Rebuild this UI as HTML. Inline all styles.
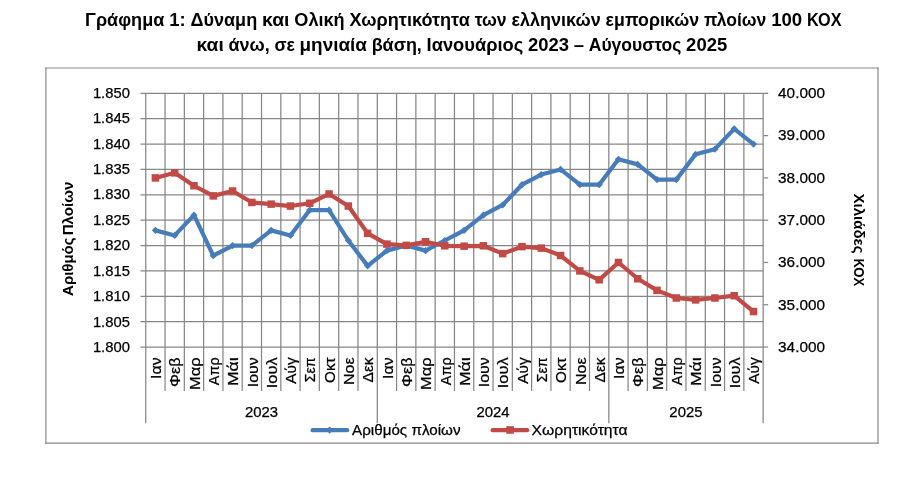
<!DOCTYPE html>
<html lang="el"><head><meta charset="utf-8"><title>Γράφημα 1</title>
<style>html,body{margin:0;padding:0;background:#fff}svg{display:block}text{font-family:"Liberation Sans",sans-serif;fill:#000}</style></head><body>
<svg width="917" height="482" viewBox="0 0 917 482">
<rect width="917" height="482" fill="#fff"/>
<g font-weight="bold" font-size="17.5">
<text x="85.1" y="26.1" textLength="79.2" lengthAdjust="spacingAndGlyphs">Γράφημα</text>
<text x="169.18" y="26.1" textLength="16.44" lengthAdjust="spacingAndGlyphs">1:</text>
<text x="190.5" y="26.1" textLength="66.66" lengthAdjust="spacingAndGlyphs">Δύναμη</text>
<text x="262.03" y="26.1" textLength="27.41" lengthAdjust="spacingAndGlyphs">και</text>
<text x="294.31" y="26.1" textLength="50.33" lengthAdjust="spacingAndGlyphs">Ολική</text>
<text x="349.52" y="26.1" textLength="120.28" lengthAdjust="spacingAndGlyphs">Χωρητικότητα</text>
<text x="474.67" y="26.1" textLength="31.98" lengthAdjust="spacingAndGlyphs">των</text>
<text x="511.53" y="26.1" textLength="89.22" lengthAdjust="spacingAndGlyphs">ελληνικών</text>
<text x="605.62" y="26.1" textLength="93.46" lengthAdjust="spacingAndGlyphs">εμπορικών</text>
<text x="703.95" y="26.1" textLength="62.34" lengthAdjust="spacingAndGlyphs">πλοίων</text>
<text x="771.17" y="26.1" textLength="31.04" lengthAdjust="spacingAndGlyphs">100</text>
<text x="807.09" y="26.1" textLength="34.41" lengthAdjust="spacingAndGlyphs">ΚΟΧ</text>
<text x="196.5" y="50.8" textLength="27.25" lengthAdjust="spacingAndGlyphs">και</text>
<text x="228.46" y="50.8" textLength="41.22" lengthAdjust="spacingAndGlyphs">άνω,</text>
<text x="274.4" y="50.8" textLength="20.45" lengthAdjust="spacingAndGlyphs">σε</text>
<text x="299.56" y="50.8" textLength="67.4" lengthAdjust="spacingAndGlyphs">μηνιαία</text>
<text x="371.67" y="50.8" textLength="50.19" lengthAdjust="spacingAndGlyphs">βάση,</text>
<text x="426.57" y="50.8" textLength="96.69" lengthAdjust="spacingAndGlyphs">Ιανουάριος</text>
<text x="527.97" y="50.8" textLength="41.08" lengthAdjust="spacingAndGlyphs">2023</text>
<text x="573.77" y="50.8" textLength="10.3" lengthAdjust="spacingAndGlyphs">–</text>
<text x="588.78" y="50.8" textLength="92.62" lengthAdjust="spacingAndGlyphs">Αύγουστος</text>
<text x="686.12" y="50.8" textLength="41.08" lengthAdjust="spacingAndGlyphs">2025</text>
</g>
<g stroke="#878787" stroke-width="1.2" stroke-linecap="square"><line x1="45.9" y1="68" x2="878" y2="68"/><line x1="45.9" y1="443.2" x2="878" y2="443.2"/><line x1="45.9" y1="68" x2="45.9" y2="443.2"/><line x1="878" y1="68" x2="878" y2="443.2"/></g>
<g stroke="#878787" stroke-width="1.25" fill="none">
<line x1="140.45" y1="93.35" x2="763.15" y2="93.35"/>
<line x1="140.45" y1="118.72" x2="763.15" y2="118.72"/>
<line x1="140.45" y1="144.09" x2="763.15" y2="144.09"/>
<line x1="140.45" y1="169.46" x2="763.15" y2="169.46"/>
<line x1="140.45" y1="194.83" x2="763.15" y2="194.83"/>
<line x1="140.45" y1="220.2" x2="763.15" y2="220.2"/>
<line x1="140.45" y1="245.57" x2="763.15" y2="245.57"/>
<line x1="140.45" y1="270.94" x2="763.15" y2="270.94"/>
<line x1="140.45" y1="296.31" x2="763.15" y2="296.31"/>
<line x1="140.45" y1="321.68" x2="763.15" y2="321.68"/>
<line x1="140.45" y1="347.05" x2="763.15" y2="347.05"/>
<line x1="763.15" y1="93.35" x2="768.15" y2="93.35"/>
<line x1="763.15" y1="135.63" x2="768.15" y2="135.63"/>
<line x1="763.15" y1="177.92" x2="768.15" y2="177.92"/>
<line x1="763.15" y1="220.2" x2="768.15" y2="220.2"/>
<line x1="763.15" y1="262.48" x2="768.15" y2="262.48"/>
<line x1="763.15" y1="304.77" x2="768.15" y2="304.77"/>
<line x1="763.15" y1="347.05" x2="768.15" y2="347.05"/>
<line x1="145.75" y1="93.35" x2="145.75" y2="423.3"/>
<line x1="165.04" y1="93.35" x2="165.04" y2="391"/>
<line x1="184.34" y1="93.35" x2="184.34" y2="391"/>
<line x1="203.63" y1="93.35" x2="203.63" y2="391"/>
<line x1="222.93" y1="93.35" x2="222.93" y2="391"/>
<line x1="242.22" y1="93.35" x2="242.22" y2="391"/>
<line x1="261.51" y1="93.35" x2="261.51" y2="391"/>
<line x1="280.81" y1="93.35" x2="280.81" y2="391"/>
<line x1="300.1" y1="93.35" x2="300.1" y2="391"/>
<line x1="319.39" y1="93.35" x2="319.39" y2="391"/>
<line x1="338.69" y1="93.35" x2="338.69" y2="391"/>
<line x1="357.98" y1="93.35" x2="357.98" y2="391"/>
<line x1="377.27" y1="93.35" x2="377.27" y2="423.3"/>
<line x1="396.57" y1="93.35" x2="396.57" y2="391"/>
<line x1="415.86" y1="93.35" x2="415.86" y2="391"/>
<line x1="435.16" y1="93.35" x2="435.16" y2="391"/>
<line x1="454.45" y1="93.35" x2="454.45" y2="391"/>
<line x1="473.74" y1="93.35" x2="473.74" y2="391"/>
<line x1="493.04" y1="93.35" x2="493.04" y2="391"/>
<line x1="512.33" y1="93.35" x2="512.33" y2="391"/>
<line x1="531.62" y1="93.35" x2="531.62" y2="391"/>
<line x1="550.92" y1="93.35" x2="550.92" y2="391"/>
<line x1="570.21" y1="93.35" x2="570.21" y2="391"/>
<line x1="589.51" y1="93.35" x2="589.51" y2="391"/>
<line x1="608.8" y1="93.35" x2="608.8" y2="423.3"/>
<line x1="628.09" y1="93.35" x2="628.09" y2="391"/>
<line x1="647.39" y1="93.35" x2="647.39" y2="391"/>
<line x1="666.68" y1="93.35" x2="666.68" y2="391"/>
<line x1="685.98" y1="93.35" x2="685.98" y2="391"/>
<line x1="705.27" y1="93.35" x2="705.27" y2="391"/>
<line x1="724.56" y1="93.35" x2="724.56" y2="391"/>
<line x1="743.86" y1="93.35" x2="743.86" y2="391"/>
<line x1="763.15" y1="93.35" x2="763.15" y2="423.3"/>
</g>
<g font-size="14.6" stroke="#000" stroke-width="0.25" text-anchor="end">
<text x="129.9" y="97.6" textLength="37" lengthAdjust="spacingAndGlyphs">1.850</text>
<text x="129.9" y="123.06" textLength="37" lengthAdjust="spacingAndGlyphs">1.845</text>
<text x="129.9" y="148.52" textLength="37" lengthAdjust="spacingAndGlyphs">1.840</text>
<text x="129.9" y="173.98" textLength="37" lengthAdjust="spacingAndGlyphs">1.835</text>
<text x="129.9" y="199.44" textLength="37" lengthAdjust="spacingAndGlyphs">1.830</text>
<text x="129.9" y="224.9" textLength="37" lengthAdjust="spacingAndGlyphs">1.825</text>
<text x="129.9" y="250.36" textLength="37" lengthAdjust="spacingAndGlyphs">1.820</text>
<text x="129.9" y="275.82" textLength="37" lengthAdjust="spacingAndGlyphs">1.815</text>
<text x="129.9" y="301.28" textLength="37" lengthAdjust="spacingAndGlyphs">1.810</text>
<text x="129.9" y="326.74" textLength="37" lengthAdjust="spacingAndGlyphs">1.805</text>
<text x="129.9" y="352.2" textLength="37" lengthAdjust="spacingAndGlyphs">1.800</text>
</g>
<g font-size="14.6" stroke="#000" stroke-width="0.25" text-anchor="start">
<text x="778.1" y="97.7" textLength="46.9" lengthAdjust="spacingAndGlyphs">40.000</text>
<text x="778.1" y="140.12" textLength="46.9" lengthAdjust="spacingAndGlyphs">39.000</text>
<text x="778.1" y="182.54" textLength="46.9" lengthAdjust="spacingAndGlyphs">38.000</text>
<text x="778.1" y="224.96" textLength="46.9" lengthAdjust="spacingAndGlyphs">37.000</text>
<text x="778.1" y="267.38" textLength="46.9" lengthAdjust="spacingAndGlyphs">36.000</text>
<text x="778.1" y="309.8" textLength="46.9" lengthAdjust="spacingAndGlyphs">35.000</text>
<text x="778.1" y="352.22" textLength="46.9" lengthAdjust="spacingAndGlyphs">34.000</text>
</g>
<g font-size="14.6" stroke="#000" stroke-width="0.25" text-anchor="end">
<text transform="translate(161.1,357.4) rotate(-90)" textLength="21.6" lengthAdjust="spacingAndGlyphs">Ιαν</text>
<text transform="translate(180.39,357.4) rotate(-90)" textLength="29.52" lengthAdjust="spacingAndGlyphs">Φεβ</text>
<text transform="translate(199.68,357.4) rotate(-90)" textLength="32.58" lengthAdjust="spacingAndGlyphs">Μαρ</text>
<text transform="translate(218.98,357.4) rotate(-90)" textLength="27.76" lengthAdjust="spacingAndGlyphs">Απρ</text>
<text transform="translate(238.27,357.4) rotate(-90)" textLength="28.7" lengthAdjust="spacingAndGlyphs">Μάι</text>
<text transform="translate(257.57,357.4) rotate(-90)" textLength="29.9" lengthAdjust="spacingAndGlyphs">Ιουν</text>
<text transform="translate(276.86,357.4) rotate(-90)" textLength="30.88" lengthAdjust="spacingAndGlyphs">Ιουλ</text>
<text transform="translate(296.15,357.4) rotate(-90)" textLength="26.47" lengthAdjust="spacingAndGlyphs">Αύγ</text>
<text transform="translate(315.45,357.4) rotate(-90)" textLength="24.89" lengthAdjust="spacingAndGlyphs">Σεπ</text>
<text transform="translate(334.74,357.4) rotate(-90)" textLength="25.5" lengthAdjust="spacingAndGlyphs">Οκτ</text>
<text transform="translate(354.03,357.4) rotate(-90)" textLength="27.57" lengthAdjust="spacingAndGlyphs">Νοε</text>
<text transform="translate(373.33,357.4) rotate(-90)" textLength="25.02" lengthAdjust="spacingAndGlyphs">Δεκ</text>
<text transform="translate(392.62,357.4) rotate(-90)" textLength="21.6" lengthAdjust="spacingAndGlyphs">Ιαν</text>
<text transform="translate(411.92,357.4) rotate(-90)" textLength="29.52" lengthAdjust="spacingAndGlyphs">Φεβ</text>
<text transform="translate(431.21,357.4) rotate(-90)" textLength="32.58" lengthAdjust="spacingAndGlyphs">Μαρ</text>
<text transform="translate(450.5,357.4) rotate(-90)" textLength="27.76" lengthAdjust="spacingAndGlyphs">Απρ</text>
<text transform="translate(469.8,357.4) rotate(-90)" textLength="28.7" lengthAdjust="spacingAndGlyphs">Μάι</text>
<text transform="translate(489.09,357.4) rotate(-90)" textLength="29.9" lengthAdjust="spacingAndGlyphs">Ιουν</text>
<text transform="translate(508.38,357.4) rotate(-90)" textLength="30.88" lengthAdjust="spacingAndGlyphs">Ιουλ</text>
<text transform="translate(527.68,357.4) rotate(-90)" textLength="26.47" lengthAdjust="spacingAndGlyphs">Αύγ</text>
<text transform="translate(546.97,357.4) rotate(-90)" textLength="24.89" lengthAdjust="spacingAndGlyphs">Σεπ</text>
<text transform="translate(566.27,357.4) rotate(-90)" textLength="25.5" lengthAdjust="spacingAndGlyphs">Οκτ</text>
<text transform="translate(585.56,357.4) rotate(-90)" textLength="27.57" lengthAdjust="spacingAndGlyphs">Νοε</text>
<text transform="translate(604.85,357.4) rotate(-90)" textLength="25.02" lengthAdjust="spacingAndGlyphs">Δεκ</text>
<text transform="translate(624.15,357.4) rotate(-90)" textLength="21.6" lengthAdjust="spacingAndGlyphs">Ιαν</text>
<text transform="translate(643.44,357.4) rotate(-90)" textLength="29.52" lengthAdjust="spacingAndGlyphs">Φεβ</text>
<text transform="translate(662.73,357.4) rotate(-90)" textLength="32.58" lengthAdjust="spacingAndGlyphs">Μαρ</text>
<text transform="translate(682.03,357.4) rotate(-90)" textLength="27.76" lengthAdjust="spacingAndGlyphs">Απρ</text>
<text transform="translate(701.32,357.4) rotate(-90)" textLength="28.7" lengthAdjust="spacingAndGlyphs">Μάι</text>
<text transform="translate(720.62,357.4) rotate(-90)" textLength="29.9" lengthAdjust="spacingAndGlyphs">Ιουν</text>
<text transform="translate(739.91,357.4) rotate(-90)" textLength="30.88" lengthAdjust="spacingAndGlyphs">Ιουλ</text>
<text transform="translate(759.2,357.4) rotate(-90)" textLength="26.47" lengthAdjust="spacingAndGlyphs">Αύγ</text>
</g>
<g font-size="14.6" stroke="#000" stroke-width="0.25" text-anchor="middle">
<text x="261.51" y="417" textLength="33.2" lengthAdjust="spacingAndGlyphs">2023</text>
<text x="493.04" y="417" textLength="33.2" lengthAdjust="spacingAndGlyphs">2024</text>
<text x="685.98" y="417" textLength="33.2" lengthAdjust="spacingAndGlyphs">2025</text>
</g>
<g font-size="14.4" font-weight="bold">
<text transform="translate(72.5,295.9) rotate(-90)" textLength="58.4" lengthAdjust="spacingAndGlyphs">Αριθμός</text>
<text transform="translate(72.5,235.3) rotate(-90)" textLength="53.7" lengthAdjust="spacingAndGlyphs">Πλοίων</text>
<text transform="translate(854.3,193.4) rotate(90)" textLength="60.2" lengthAdjust="spacingAndGlyphs">Χιλιάδες</text>
<text transform="translate(854.3,258.5) rotate(90)" textLength="27.8" lengthAdjust="spacingAndGlyphs">ΚΟΧ</text>
</g>
<polyline points="155.4,230.35 174.69,235.42 193.98,215.13 213.28,255.72 232.57,245.57 251.87,245.57 271.16,230.35 290.45,235.42 309.75,210.05 329.04,210.05 348.33,240.5 367.63,265.87 386.92,250.64 406.22,245.57 425.51,250.64 444.8,240.5 464.1,230.35 483.39,215.13 502.68,204.98 521.98,184.68 541.27,174.53 560.57,169.46 579.86,184.68 599.15,184.68 618.45,159.31 637.74,164.39 657.03,179.61 676.33,179.61 695.62,154.24 714.92,149.16 734.21,128.87 753.5,144.09" fill="none" stroke="#477cba" stroke-width="4.2" stroke-linejoin="round" stroke-linecap="round"/>
<g fill="#477cba">
<path d="M155.4 226.75L159 230.35L155.4 233.95L151.8 230.35Z"/>
<path d="M174.69 231.82L178.29 235.42L174.69 239.02L171.09 235.42Z"/>
<path d="M193.98 211.53L197.58 215.13L193.98 218.73L190.38 215.13Z"/>
<path d="M213.28 252.12L216.88 255.72L213.28 259.32L209.68 255.72Z"/>
<path d="M232.57 241.97L236.17 245.57L232.57 249.17L228.97 245.57Z"/>
<path d="M251.87 241.97L255.47 245.57L251.87 249.17L248.27 245.57Z"/>
<path d="M271.16 226.75L274.76 230.35L271.16 233.95L267.56 230.35Z"/>
<path d="M290.45 231.82L294.05 235.42L290.45 239.02L286.85 235.42Z"/>
<path d="M309.75 206.45L313.35 210.05L309.75 213.65L306.15 210.05Z"/>
<path d="M329.04 206.45L332.64 210.05L329.04 213.65L325.44 210.05Z"/>
<path d="M348.33 236.9L351.93 240.5L348.33 244.1L344.73 240.5Z"/>
<path d="M367.63 262.27L371.23 265.87L367.63 269.47L364.03 265.87Z"/>
<path d="M386.92 247.04L390.52 250.64L386.92 254.24L383.32 250.64Z"/>
<path d="M406.22 241.97L409.82 245.57L406.22 249.17L402.62 245.57Z"/>
<path d="M425.51 247.04L429.11 250.64L425.51 254.24L421.91 250.64Z"/>
<path d="M444.8 236.9L448.4 240.5L444.8 244.1L441.2 240.5Z"/>
<path d="M464.1 226.75L467.7 230.35L464.1 233.95L460.5 230.35Z"/>
<path d="M483.39 211.53L486.99 215.13L483.39 218.73L479.79 215.13Z"/>
<path d="M502.68 201.38L506.28 204.98L502.68 208.58L499.08 204.98Z"/>
<path d="M521.98 181.08L525.58 184.68L521.98 188.28L518.38 184.68Z"/>
<path d="M541.27 170.93L544.87 174.53L541.27 178.13L537.67 174.53Z"/>
<path d="M560.57 165.86L564.17 169.46L560.57 173.06L556.97 169.46Z"/>
<path d="M579.86 181.08L583.46 184.68L579.86 188.28L576.26 184.68Z"/>
<path d="M599.15 181.08L602.75 184.68L599.15 188.28L595.55 184.68Z"/>
<path d="M618.45 155.71L622.05 159.31L618.45 162.91L614.85 159.31Z"/>
<path d="M637.74 160.79L641.34 164.39L637.74 167.99L634.14 164.39Z"/>
<path d="M657.03 176.01L660.63 179.61L657.03 183.21L653.43 179.61Z"/>
<path d="M676.33 176.01L679.93 179.61L676.33 183.21L672.73 179.61Z"/>
<path d="M695.62 150.64L699.22 154.24L695.62 157.84L692.02 154.24Z"/>
<path d="M714.92 145.56L718.52 149.16L714.92 152.76L711.32 149.16Z"/>
<path d="M734.21 125.27L737.81 128.87L734.21 132.47L730.61 128.87Z"/>
<path d="M753.5 140.49L757.1 144.09L753.5 147.69L749.9 144.09Z"/>
</g>
<polyline points="155.4,177.92 174.69,172.84 193.98,185.74 213.28,195.89 232.57,191.02 251.87,202.44 271.16,204.13 290.45,206.04 309.75,203.29 329.04,193.98 348.33,206.04 367.63,233.31 386.92,244.09 406.22,245.36 425.51,241.76 444.8,245.78 464.1,246.2 483.39,245.78 502.68,253.6 521.98,246.63 541.27,248.11 560.57,255.51 579.86,270.94 599.15,279.82 618.45,262.48 637.74,278.76 657.03,290.39 676.33,298 695.62,299.9 714.92,298 734.21,295.68 753.5,311.53" fill="none" stroke="#c24a46" stroke-width="4.2" stroke-linejoin="round" stroke-linecap="round"/>
<g fill="#c24a46">
<rect x="151.65" y="174.17" width="7.5" height="7.5"/>
<rect x="170.94" y="169.09" width="7.5" height="7.5"/>
<rect x="190.23" y="181.99" width="7.5" height="7.5"/>
<rect x="209.53" y="192.14" width="7.5" height="7.5"/>
<rect x="228.82" y="187.27" width="7.5" height="7.5"/>
<rect x="248.12" y="198.69" width="7.5" height="7.5"/>
<rect x="267.41" y="200.38" width="7.5" height="7.5"/>
<rect x="286.7" y="202.29" width="7.5" height="7.5"/>
<rect x="306" y="199.54" width="7.5" height="7.5"/>
<rect x="325.29" y="190.23" width="7.5" height="7.5"/>
<rect x="344.58" y="202.29" width="7.5" height="7.5"/>
<rect x="363.88" y="229.56" width="7.5" height="7.5"/>
<rect x="383.17" y="240.34" width="7.5" height="7.5"/>
<rect x="402.47" y="241.61" width="7.5" height="7.5"/>
<rect x="421.76" y="238.01" width="7.5" height="7.5"/>
<rect x="441.05" y="242.03" width="7.5" height="7.5"/>
<rect x="460.35" y="242.45" width="7.5" height="7.5"/>
<rect x="479.64" y="242.03" width="7.5" height="7.5"/>
<rect x="498.93" y="249.85" width="7.5" height="7.5"/>
<rect x="518.23" y="242.88" width="7.5" height="7.5"/>
<rect x="537.52" y="244.36" width="7.5" height="7.5"/>
<rect x="556.82" y="251.76" width="7.5" height="7.5"/>
<rect x="576.11" y="267.19" width="7.5" height="7.5"/>
<rect x="595.4" y="276.07" width="7.5" height="7.5"/>
<rect x="614.7" y="258.73" width="7.5" height="7.5"/>
<rect x="633.99" y="275.01" width="7.5" height="7.5"/>
<rect x="653.28" y="286.64" width="7.5" height="7.5"/>
<rect x="672.58" y="294.25" width="7.5" height="7.5"/>
<rect x="691.87" y="296.15" width="7.5" height="7.5"/>
<rect x="711.17" y="294.25" width="7.5" height="7.5"/>
<rect x="730.46" y="291.93" width="7.5" height="7.5"/>
<rect x="749.75" y="307.78" width="7.5" height="7.5"/>
</g>
<line x1="312.6" y1="430.2" x2="347.2" y2="430.2" stroke="#477cba" stroke-width="4.2" stroke-linecap="round"/>
<path fill="#477cba" d="M329.6 426.4L333.3 430.1L329.6 433.8L325.9 430.1Z"/>
<line x1="492.6" y1="430.2" x2="527.2" y2="430.2" stroke="#c24a46" stroke-width="4.2" stroke-linecap="round"/>
<rect fill="#c24a46" x="506.3" y="426.15" width="7.6" height="7.6"/>
<g font-size="14.6" stroke="#000" stroke-width="0.25">
<text x="352" y="435.2" textLength="108.6" lengthAdjust="spacingAndGlyphs">Αριθμός πλοίων</text>
<text x="531.6" y="435.2" textLength="96" lengthAdjust="spacingAndGlyphs">Χωρητικότητα</text>
</g>
</svg></body></html>
